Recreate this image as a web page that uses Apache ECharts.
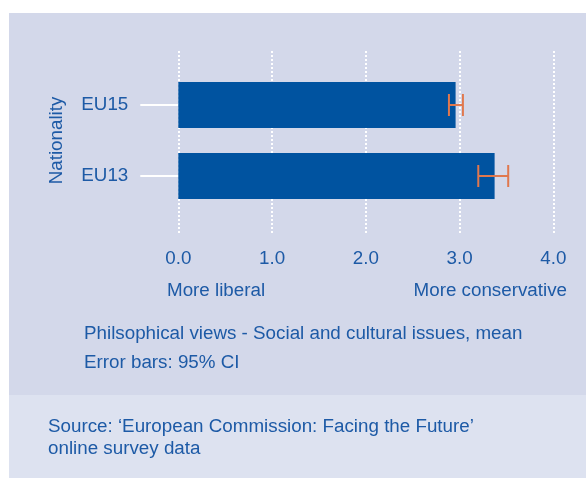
<!DOCTYPE html>
<html>
<head>
<meta charset="utf-8">
<script src="https://cdn.jsdelivr.net/npm/echarts@6/dist/echarts.min.js"></script>
<style>
html,body{margin:0;padding:0;background:#ffffff;}
#chart{width:586px;height:478px;}
</style>
</head>
<body>
<div id="chart"></div>
<script>
var categories = ['EU15', 'EU13'];
var means = [2.957, 3.373];
var ciLow = [2.886, 3.199];
var ciHigh = [3.035, 3.518];
var xTicks = [0, 1, 2, 3, 4];

var FONT = '"Liberation Sans", Arial, Helvetica, sans-serif';
var BLUE_TXT = '#1d5aa6';
var FS = 18.8;

var chart = echarts.init(document.getElementById('chart'));

var errData = categories.map(function (c, i) { return [ciLow[i], ciHigh[i], i]; });

function txt(x, y, s, align) {
  return {
    type: 'text', x: x, y: y, silent: true,
    style: { text: s, fill: BLUE_TXT, font: FS + 'px ' + FONT, align: align || 'left', verticalAlign: 'middle' }
  };
}

var option = {
  animation: false,
  backgroundColor: '#ffffff',
  graphic: [
    { type: 'rect', shape: { x: 9, y: 13, width: 577, height: 382 }, style: { fill: '#d3d8ea' }, z: -10, silent: true },
    { type: 'rect', shape: { x: 9, y: 395, width: 577, height: 83 }, style: { fill: '#dde2f0' }, z: -10, silent: true },
    txt(167, 290.5, 'More liberal'),
    txt(567, 290.5, 'More conservative', 'right'),
    txt(84, 334, 'Philsophical views - Social and cultural issues, mean'),
    txt(84, 363, 'Error bars: 95% CI'),
    txt(48, 427, 'Source: \u2018European Commission: Facing the Future\u2019'),
    txt(48, 449, 'online survey data')
  ],
  grid: [
    { left: 178.3, right: 32.6, top: 51, height: 184 },
    { left: 178.3, right: 32.6, top: 69.5, height: 142 }
  ],
  xAxis: [
    {
      gridIndex: 0, type: 'value', min: xTicks[0], max: xTicks[xTicks.length - 1], interval: 1,
      axisLine: { show: false }, axisTick: { show: false },
      splitLine: { show: true, lineStyle: { color: '#ffffff', width: 2, type: [2, 2] } },
      axisLabel: {
        margin: 14, color: BLUE_TXT, fontSize: FS, fontFamily: FONT,
        formatter: function (v) { return v.toFixed(1); }
      }
    },
    {
      gridIndex: 1, type: 'value', min: xTicks[0], max: xTicks[xTicks.length - 1], interval: 1,
      show: false, splitLine: { show: false }
    }
  ],
  yAxis: [
    { gridIndex: 0, type: 'value', show: false, splitLine: { show: false } },
    {
      gridIndex: 1, type: 'category', data: categories, inverse: true,
      axisLine: { show: false },
      axisTick: { show: true, alignWithLabel: true, length: 38, lineStyle: { color: '#ffffff', width: 2 } },
      axisLabel: { margin: 50, color: BLUE_TXT, fontSize: FS, fontFamily: FONT },
      name: 'Nationality', nameLocation: 'middle', nameRotate: 90, nameGap: 112,
      nameTextStyle: { color: BLUE_TXT, fontSize: FS, fontFamily: FONT }
    }
  ],
  series: [
    {
      type: 'bar', xAxisIndex: 1, yAxisIndex: 1, data: means, barWidth: 46,
      itemStyle: { color: '#0053a0' }, z: 2
    },
    {
      type: 'custom', xAxisIndex: 1, yAxisIndex: 1, data: errData, z: 5,
      renderItem: function (params, api) {
        var lo = api.coord([api.value(0), api.value(2)]);
        var hi = api.coord([api.value(1), api.value(2)]);
        var h = 11;
        var st = { stroke: '#e0784e', lineWidth: 2 };
        return {
          type: 'group',
          children: [
            { type: 'line', shape: { x1: lo[0], y1: lo[1], x2: hi[0], y2: hi[1] }, style: st },
            { type: 'line', shape: { x1: lo[0], y1: lo[1] - h, x2: lo[0], y2: lo[1] + h }, style: st },
            { type: 'line', shape: { x1: hi[0], y1: hi[1] - h, x2: hi[0], y2: hi[1] + h }, style: st }
          ]
        };
      }
    }
  ]
};
chart.setOption(option);
</script>
</body>
</html>
